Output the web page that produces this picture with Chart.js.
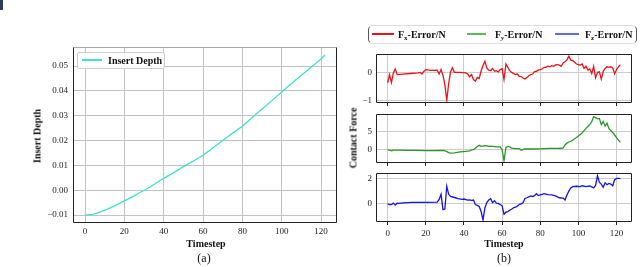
<!DOCTYPE html>
<html>
<head>
<meta charset="utf-8">
<script src="https://cdn.jsdelivr.net/npm/chart.js@4.4.0/dist/chart.umd.min.js"></script>
<style>
    body { margin: 0; background: #fff; width: 640px; height: 267px; overflow: hidden; position: relative; font-family: "Liberation Serif", "DejaVu Serif", serif; color: #111; }
    canvas { position: absolute; left: 0; top: 0; }
    .txt { position: absolute; white-space: nowrap; transform: translate(-50%, -50%); }
    .bold { font-weight: bold; font-size: 10px; }
    .vert { transform: translate(-50%, -50%) rotate(-90deg); }
    .cap { font-size: 12px; }
    .legend { position: absolute; background: rgba(255,255,255,0.85); border: 1px solid #ccc; border-radius: 2px; }
    .swatch { position: absolute; }
    .ltext { position: absolute; font-weight: bold; font-size: 10px; white-space: nowrap; transform: translateY(-50%); }
    .ltext sub { font-size: 7px; vertical-align: -2px; line-height: 0; }
    #mark { position: absolute; left: 0; top: 0; width: 3px; height: 10px; background: #2b3e5c; }
</style>
</head>
<body>
<div id="mark"></div>
<canvas id="depthChart" width="640" height="267"></canvas>
<canvas id="fxChart" width="640" height="267"></canvas>
<canvas id="fyChart" width="640" height="267"></canvas>
<canvas id="fzChart" width="640" height="267"></canvas>

<!-- (a) labels -->
<div class="legend" style="left:77px; top:52px; width:86px; height:15px;"></div>
<div class="swatch" style="left:82px; top:59px; width:20px; height:2px; background:#40e0d0;"></div>
<div class="ltext" style="left:108px; top:60px;">Insert Depth</div>
<div class="txt bold vert" style="left:37px; top:136px;">Insert Depth</div>
<div class="txt bold" style="left:206px; top:243px;">Timestep</div>
<div class="txt cap" style="left:204px; top:258px;">(a)</div>

<!-- (b) labels -->
<div class="legend" style="left:368px; top:25px; width:267px; height:17px; border-color:#ddd #555 #ddd #555; border-radius:5px;"></div>
<div class="swatch" style="left:372px; top:33px; width:22px; height:2px; background:#e8141c;"></div>
<div class="ltext" style="left:398px; top:34px;">F<sub>x</sub>-Error/N</div>
<div class="swatch" style="left:467px; top:33px; width:19px; height:1.5px; background:#5cb85c;"></div>
<div class="ltext" style="left:495px; top:34px;">F<sub><i>y</i></sub>-Error/N</div>
<div class="swatch" style="left:555px; top:33px; width:24px; height:1.5px; background:#5a6ce6;"></div>
<div class="ltext" style="left:585px; top:34px;">F<sub>z</sub>-Error/N</div>
<div class="txt bold vert" style="left:353px; top:138px;">Contact Force</div>
<div class="txt bold" style="left:504px; top:243px;">Timestep</div>
<div class="txt cap" style="left:504px; top:258px;">(b)</div>

<script>
// Insert depth
const depthSteps = [0, 4, 8, 12, 16, 20, 24, 28, 32, 36, 40, 44, 48, 52, 56, 60, 64, 68, 72, 76, 80, 84, 88, 92, 96, 100, 104, 108, 112, 116, 120, 122];
const depthValues = [-0.0100, -0.0097, -0.0087, -0.0074, -0.0059, -0.0043, -0.0027, -0.0009, 0.0008, 0.0028, 0.0048, 0.0066,
    0.0085, 0.0104, 0.0122, 0.0141, 0.0164, 0.0188, 0.0212, 0.0235, 0.0258, 0.0286, 0.0314, 0.0340, 0.0368, 0.0396,
    0.0424, 0.0450, 0.0476, 0.0502, 0.0530, 0.0545];

// Force errors, [timestep, value]
const fxError = [[0,-0.38],[1,-0.08],[2,-0.36],[3,-0.02],[4,0.12],[5,-0.08],[8,-0.06],[12,-0.04],[16,-0.02],[17,0.0],[18,-0.06],
    [19,0.04],[20,0.1],[23,0.07],[26,0.08],[27,-0.06],[28,0.1],[29,-0.1],[30,-0.45],[31,-1.0],[32,-0.4],[33,0.02],[34,0.16],
    [35,0.0],[38,0.0],[41,-0.02],[42,-0.06],[43,-0.16],[44,-0.08],[45,-0.26],[46,-0.32],[47,-0.18],[48,-0.22],[49,0.05],
    [50,0.25],[51,0.4],[52,0.15],[53,0.08],[54,0.06],[55,0.14],[56,0.04],[57,0.06],[58,0.02],[59,0.1],[60,0.13],[61,-0.25],
    [62,0.3],[63,0.18],[64,0.06],[65,0.0],[67,-0.08],[68,-0.06],[69,-0.14],[70,-0.15],[71,-0.2],[72,-0.24],[73,-0.18],
    [74,-0.12],[75,-0.08],[76,-0.06],[77,0.03],[78,0.04],[79,0.09],[80,0.1],[81,0.12],[82,0.18],[83,0.18],[84,0.22],
    [85,0.2],[86,0.24],[87,0.22],[88,0.27],[89,0.28],[90,0.26],[91,0.22],[92,0.34],[93,0.38],[94,0.45],[95,0.58],[96,0.44],
    [97,0.42],[98,0.36],[99,0.3],[100,0.28],[101,0.26],[102,0.3],[103,0.14],[104,0.22],[105,0.08],[106,0.12],[107,-0.04],
    [108,0.22],[109,-0.2],[110,0.0],[111,0.02],[112,-0.24],[113,0.04],[114,0.14],[115,0.2],[116,0.18],[117,0.2],[118,0.16],
    [119,-0.05],[120,0.1],[121,0.2],[122,0.28]];

const fyError = [[0,0.0],[1,-0.1],[2,-0.3],[3,-0.1],[5,-0.1],[10,-0.15],[15,-0.2],[20,-0.25],[25,-0.25],[29,-0.2],[30,-0.3],
    [31,-0.5],[32,-0.8],[33,-0.9],[35,-0.85],[38,-0.6],[41,-0.45],[43,-0.3],[44,-0.05],[45,0.0],[46,0.4],[47,0.9],[48,1.2],
    [49,0.9],[50,1.0],[51,1.1],[53,0.95],[55,0.9],[57,0.8],[59,0.75],[60,0.0],[61,-3.0],[62,0.6],[63,0.9],[64,0.8],[65,0.45],
    [67,0.3],[69,0.3],[70,-0.15],[71,0.1],[72,0.2],[76,0.2],[80,0.25],[85,0.35],[90,0.4],[92,0.45],[93,1.3],[94,1.8],[95,2.1],
    [96,2.3],[97,2.6],[98,3.0],[99,3.3],[100,3.7],[101,4.1],[102,4.6],[103,5.2],[104,5.8],[105,6.3],[106,6.9],[107,7.6],
    [108,9.0],[109,8.7],[110,8.4],[111,8.5],[112,6.8],[113,7.7],[114,6.4],[115,7.2],[116,5.8],[117,5.2],[118,4.7],[119,4.0],
    [120,3.3],[121,2.6],[122,2.0]];

const fzError = [[0,0.0],[1,-0.05],[2,-0.06],[3,0.06],[4,-0.1],[5,0.05],[6,0.04],[8,0.08],[13,0.12],[20,0.12],[26,0.13],
    [27,0.35],[28,0.75],[29,-0.45],[30,-0.4],[31,1.38],[32,0.75],[33,0.58],[35,0.5],[37,0.42],[39,0.35],[40,0.38],[42,0.3],
    [43,0.32],[44,0.28],[45,0.3],[46,-0.05],[47,-0.12],[48,-0.2],[49,-0.6],[50,-1.25],[51,-0.3],[52,0.1],[53,0.3],[54,0.4],
    [55,0.1],[56,0.25],[57,0.05],[58,0.04],[60,-0.15],[61,-0.8],[62,-0.65],[63,-0.6],[64,-0.5],[65,-0.42],[66,-0.3],
    [67,-0.25],[68,-0.18],[69,-0.05],[70,0.0],[71,0.1],[72,0.42],[73,0.48],[74,0.55],[75,0.62],[76,0.58],[77,0.65],[78,0.8],
    [79,0.65],[80,0.7],[81,0.75],[82,0.8],[84,0.72],[86,0.7],[88,0.62],[90,0.48],[92,0.45],[93,0.3],[94,0.7],[95,1.0],
    [96,1.25],[97,1.35],[99,1.38],[101,1.35],[102,1.42],[104,1.35],[106,1.4],[108,1.25],[109,1.45],[110,2.2],[111,1.7],
    [112,1.55],[113,1.3],[114,1.65],[115,1.5],[116,1.6],[117,1.55],[118,1.42],[119,1.9],[120,2.0],[121,2.0],[122,1.98]];

const xTickStep = 20;

// draws the axes box with per-side colours
const framePlugin = {
    id: 'frame',
    afterDatasetsDraw(chart, args, opts) {
        const a = chart.chartArea;
        const ctx = chart.ctx;
        const l = Math.round(a.left) + 0.5, r = Math.round(a.right) - 0.5;
        const t = Math.round(a.top) + 0.5, b = Math.round(a.bottom) - 0.5;
        const sides = [
            [opts.top, l, t, r, t], [opts.right, r, t, r, b],
            [opts.bottom, l, b, r, b], [opts.left, l, t, l, b]
        ];
        ctx.save();
        ctx.lineWidth = 1;
        sides.forEach(s => {
            ctx.strokeStyle = s[0];
            ctx.beginPath();
            ctx.moveTo(s[1], s[2]);
            ctx.lineTo(s[3], s[4]);
            ctx.stroke();
        });
        ctx.restore();
    }
};

function minusSign(text) {
    return text.replace('-', '\u2212');
}

function makePlot(id, o) {
    const tickFont = { family: 'Liberation Serif', size: 9 };
    const xh = o.xHeight;
    return new Chart(document.getElementById(id).getContext('2d'), {
        type: 'line',
        data: {
            datasets: [{
                data: o.points,
                borderColor: o.color,
                borderWidth: 1.3,
                pointRadius: 0,
                tension: 0,
                fill: false
            }]
        },
        options: {
            responsive: false,
            animation: false,
            events: [],
            layout: { padding: { left: 0, top: o.area.top, right: 640 - o.area.right, bottom: 267 - o.area.bottom - xh } },
            plugins: {
                legend: { display: false },
                tooltip: { enabled: false },
                frame: o.frame
            },
            scales: {
                x: {
                    type: 'linear',
                    min: -6.1, max: 128.1,
                    afterFit: s => { s.height = xh; },
                    border: { display: false },
                    grid: { color: o.gridColor, lineWidth: 1, drawTicks: o.xTickMarks, tickLength: 3, tickColor: '#222' },
                    ticks: {
                        display: o.xLabels, stepSize: xTickStep, includeBounds: false,
                        font: tickFont, color: '#222', padding: o.xPad, maxRotation: 0,
                        callback: v => String(v)
                    }
                },
                y: {
                    min: o.yMin, max: o.yMax,
                    afterFit: s => { s.width = o.area.left; },
                    border: { display: false },
                    grid: { color: o.gridColor, lineWidth: 1, drawTicks: false },
                    ticks: {
                        stepSize: o.yStep, includeBounds: false,
                        font: tickFont, color: '#222', padding: o.yPad,
                        callback: o.yFormat
                    }
                }
            }
        },
        plugins: [framePlugin]
    });
}

const darkFrame = { top: '#222', right: '#222', bottom: '#222', left: '#222' };

makePlot('depthChart', {
    points: depthSteps.map((t, i) => ({ x: t, y: depthValues[i] })),
    color: '#40e0d0',
    area: { left: 73, top: 47, right: 337, bottom: 223 },
    xHeight: 44, xLabels: true, xTickMarks: false, xPad: 3, yPad: 5,
    yMin: -0.0132, yMax: 0.0577, yStep: 0.01,
    yFormat: v => Math.abs(v) < 1e-9 ? '0.00' : minusSign(v.toFixed(2)),
    gridColor: '#c2c2c2',
    frame: { top: '#aaa', right: '#222', bottom: '#222', left: '#222' }
});

makePlot('fxChart', {
    points: fxError.map(p => ({ x: p[0], y: p[1] })),
    color: '#e8141c',
    area: { left: 376, top: 54, right: 632, bottom: 103 },
    xHeight: 4, xLabels: false, xTickMarks: true, xPad: 0, yPad: 4,
    yMin: -1.1, yMax: 0.66, yStep: 1,
    yFormat: v => minusSign(String(v)),
    gridColor: '#cccccc',
    frame: darkFrame
});

makePlot('fyChart', {
    points: fyError.map(p => ({ x: p[0], y: p[1] })),
    color: '#2a962a',
    area: { left: 376, top: 114, right: 632, bottom: 163 },
    xHeight: 4, xLabels: false, xTickMarks: true, xPad: 0, yPad: 4,
    yMin: -3.6, yMax: 9.7, yStep: 5,
    yFormat: v => minusSign(String(v)),
    gridColor: '#cccccc',
    frame: darkFrame
});

makePlot('fzChart', {
    points: fzError.map(p => ({ x: p[0], y: p[1] })),
    color: '#1414e6',
    area: { left: 376, top: 173, right: 632, bottom: 222 },
    xHeight: 16, xLabels: true, xTickMarks: true, xPad: 3, yPad: 4,
    yMin: -1.42, yMax: 2.42, yStep: 2,
    yFormat: v => minusSign(String(v)),
    gridColor: '#cccccc',
    frame: darkFrame
});
</script>
</body>
</html>
